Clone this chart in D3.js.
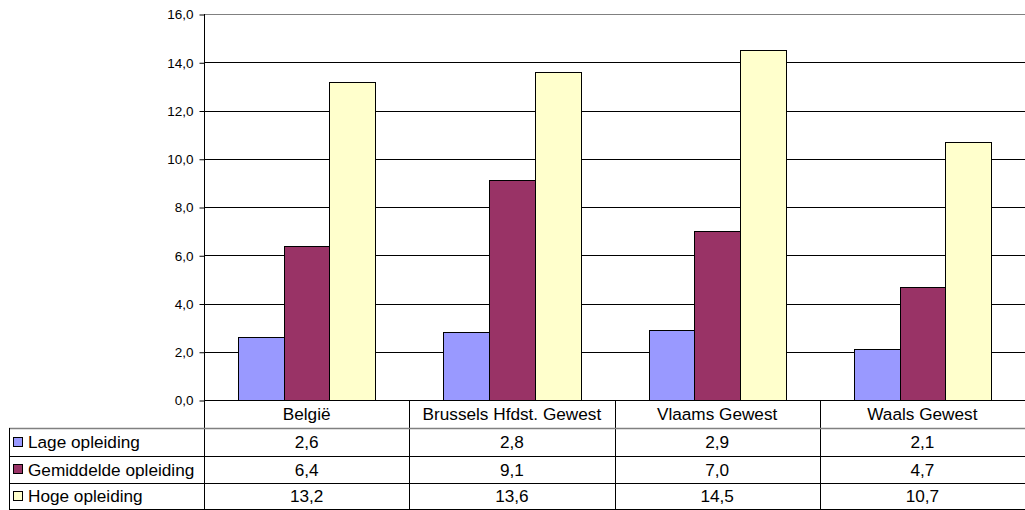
<!DOCTYPE html>
<html>
<head>
<meta charset="utf-8">
<script src="https://cdn.jsdelivr.net/npm/d3@7"></script>
<style>
  body { margin: 0; background: #fff; }
  text { font-family: "Liberation Sans", Arial, sans-serif; fill: #000; }
</style>
</head>
<body>
<svg id="drawing_region"></svg>
<script>
const categories = ['België', 'Brussels Hfdst. Gewest', 'Vlaams Gewest', 'Waals Gewest'];
const seriesNames = ['Lage opleiding', 'Gemiddelde opleiding', 'Hoge opleiding'];
const lage = [2.6, 2.8, 2.9, 2.1];
const gemiddelde = [6.4, 9.1, 7.0, 4.7];
const hoge = [13.2, 13.6, 14.5, 10.7];
const yTicks = [0, 2, 4, 6, 8, 10, 12, 14, 16];
const colors = ['#9999FF', '#993366', '#FFFFCC'];

const series = [lage, gemiddelde, hoge];

const width = 1025, height = 510;
const plot = { left: 204, right: 1025, top: 14, bottom: 400 };
const tableLeft = 9, tableBottom = 509;
const rowLines = [428, 455.5, 482.5];
const tableFont = 17.2;

const svg = d3.select('#drawing_region')
    .attr('width', width)
    .attr('height', height);

const fmt = v => d3.format('.1f')(v).replace('.', ',');

const xscale = d3.scaleBand()
    .domain(categories)
    .range([plot.left, plot.right]);

const yscale = d3.scaleLinear()
    .domain([0, 16])
    .range([plot.bottom, plot.top]);

// gridlines
svg.append('g')
    .selectAll('line')
    .data(yTicks.slice(1))
    .join('line')
    .attr('x1', plot.left).attr('x2', plot.right)
    .attr('y1', d => Math.round(yscale(d)) + 0.5)
    .attr('y2', d => Math.round(yscale(d)) + 0.5)
    .attr('stroke', d => d === 16 ? '#808080' : '#000')
    .attr('stroke-width', 1);

// y axis
const yAxis = d3.axisLeft(yscale)
    .tickValues(yTicks)
    .tickSize(5)
    .tickFormat(fmt);

const ya = svg.append('g')
    .attr('transform', `translate(${plot.left + 0.5},0.5)`)
    .call(yAxis);
ya.select('.domain').remove();
ya.selectAll('.tick line').attr('stroke', '#000');
ya.selectAll('.tick text')
    .attr('x', -11)
    .attr('font-size', 13.5)
    .attr('font-family', '"Liberation Sans", Arial, sans-serif')
    .attr('fill', '#000');

// bars
const inner = d3.scaleBand()
    .domain(d3.range(series.length))
    .range([0, xscale.bandwidth()])
    .paddingInner(0)
    .paddingOuter(0.75);

series.forEach((vals, si) => {
    svg.append('g')
        .selectAll('rect')
        .data(vals)
        .join('rect')
        .attr('x', (d, i) => Math.round(xscale(categories[i]) + inner(si)) + 0.5)
        .attr('y', d => Math.round(yscale(d)) + 0.5)
        .attr('width', Math.round(inner.bandwidth()))
        .attr('height', d => Math.round(yscale(0)) - Math.round(yscale(d)))
        .attr('fill', colors[si])
        .attr('stroke', '#000')
        .attr('stroke-width', 1);
});

// vertical axis line through table
svg.append('line')
    .attr('x1', plot.left + 0.5).attr('x2', plot.left + 0.5)
    .attr('y1', plot.top).attr('y2', tableBottom)
    .attr('stroke', '#000');

// category axis line
svg.append('line')
    .attr('x1', plot.left).attr('x2', plot.right)
    .attr('y1', plot.bottom + 0.5).attr('y2', plot.bottom + 0.5)
    .attr('stroke', '#000');

// data table
const table = svg.append('g');

table.selectAll('line.col')
    .data(categories.slice(1))
    .join('line')
    .attr('x1', d => Math.round(xscale(d)) + 0.5)
    .attr('x2', d => Math.round(xscale(d)) + 0.5)
    .attr('y1', plot.bottom).attr('y2', tableBottom)
    .attr('stroke', '#000');

table.selectAll('line.row')
    .data(rowLines.concat([tableBottom]))
    .join('line')
    .attr('x1', tableLeft).attr('x2', plot.right)
    .attr('y1', d => Math.round(d) + 0.5)
    .attr('y2', d => Math.round(d) + 0.5)
    .attr('stroke', (d, i) => i === 0 ? '#808080' : '#000')
    .attr('stroke-width', (d, i) => i === 0 ? 1.5 : 1);

table.append('line')
    .attr('x1', tableLeft + 0.5).attr('x2', tableLeft + 0.5)
    .attr('y1', rowLines[0]).attr('y2', tableBottom)
    .attr('stroke', '#000');

// category labels
table.selectAll('text.cat')
    .data(categories)
    .join('text')
    .attr('x', d => xscale(d) + xscale.bandwidth() / 2)
    .attr('y', (plot.bottom + rowLines[0]) / 2 + 6)
    .attr('text-anchor', 'middle')
    .attr('font-size', tableFont)
    .text(d => d);

const rowTops = [rowLines[0], rowLines[1], rowLines[2]];
const rowBottoms = [rowLines[1], rowLines[2], tableBottom];

series.forEach((vals, si) => {
    const cy = (rowTops[si] + rowBottoms[si]) / 2;
    table.append('rect')
        .attr('x', 13.5).attr('y', Math.round(cy - 5) + 0.5)
        .attr('width', 9).attr('height', 9)
        .attr('fill', colors[si])
        .attr('stroke', '#000');
    table.append('text')
        .attr('x', 28).attr('y', cy + 6.5)
        .attr('font-size', tableFont)
        .text(seriesNames[si]);
    table.selectAll(null)
        .data(vals)
        .join('text')
        .attr('x', (d, i) => xscale(categories[i]) + xscale.bandwidth() / 2)
        .attr('y', cy + 6.5)
        .attr('text-anchor', 'middle')
        .attr('font-size', tableFont)
        .text(d => fmt(d));
});
</script>
</body>
</html>
